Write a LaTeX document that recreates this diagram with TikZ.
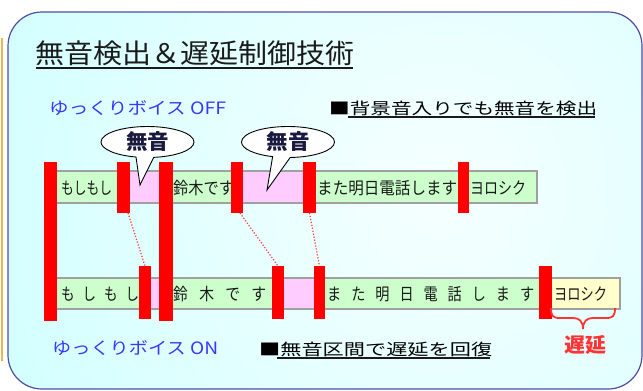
\documentclass[tikz,border=0pt]{standalone}
\usepackage{fontspec}
\setmainfont{Noto Sans CJK JP}
\usepackage{graphicx}
\usetikzlibrary{shapes.callouts}
\definecolor{bgcyan}{HTML}{C8FFFF}
\definecolor{bgwhite}{HTML}{F6FFFF}
\definecolor{frame}{HTML}{4D4DA6}
\definecolor{orangeline}{HTML}{E6B84D}
\definecolor{titlec}{HTML}{1A1A1A}
\definecolor{vblue}{HTML}{3838FF}
\definecolor{barred}{HTML}{FF0000}
\definecolor{bandgreen}{HTML}{CCFFCC}
\definecolor{bandgray}{HTML}{A0A0A0}
\definecolor{silpink}{HTML}{FFCCFF}
\definecolor{delyellow}{HTML}{FFFFCC}
\definecolor{dotred}{HTML}{FF3A3A}
\definecolor{delayred}{HTML}{FF3333}
\definecolor{calltext}{HTML}{1A1A40}
\definecolor{rowtext}{HTML}{1A1A1A}
\newcommand\wfit[2]{\resizebox{#1}{\height}{#2}}
\begin{document}
\begin{tikzpicture}[x=1pt,y=-1pt,
  redbar/.style={fill=barred,draw=none,inner sep=0pt,outer sep=0pt,anchor=north west},
  band/.style={fill=bandgreen,draw=bandgray,line width=1.2pt,inner sep=0pt,outer sep=0pt,anchor=north west},
  seg/.style={draw=none,inner sep=0pt,outer sep=0pt,anchor=north west},
  rowtxt/.style={anchor=west,inner sep=0pt,text=rowtext,font=\fontsize{17}{17}\selectfont},
  bluetxt/.style={anchor=west,inner sep=0pt,text=vblue,font=\fontsize{17}{17}\selectfont},
  subtxt/.style={anchor=west,inner sep=0pt,text=black,font=\fontsize{16}{16}\selectfont},
  uline/.style={line width=1.2pt,draw=titlec},
  dotline/.style={draw=dotred,line width=1.2pt,dash pattern=on 1.2pt off 1.8pt},
  callbox/.style={ellipse callout,draw=black,fill=white,line width=0.9pt,
    minimum width=93pt,minimum height=31pt,inner sep=0pt,callout pointer arc=22,
    text=calltext,font=\fontsize{21}{21}\selectfont\bfseries},
  bracestyle/.style={draw=delayred,line width=1.8pt}
]
\useasboundingbox (0,0) rectangle (643,391);
% background
\begin{scope}
\clip[rounded corners=34pt] (8,12) rectangle (642,389);
\fill[bgcyan] (0,0) rectangle (643,391);
\shade[inner color=bgwhite,outer color=bgcyan] (440,190) circle (620);
\end{scope}
\draw[frame,line width=1.2pt,rounded corners=34pt] (8,12) rectangle (642,389);
\draw[orangeline,line width=1.5pt] (2,38) -- (2,361);

% title and labels
\node[anchor=west,inner sep=0pt,text=titlec,font=\fontsize{27}{27}\selectfont] (title) at (35,53.4) {\wfit{319pt}{無音検出＆遅延制御技術}};
\draw[uline,line width=1.4pt] (36,68) -- (353,68);
\node[bluetxt] (off) at (49,108) {\wfit{177pt}{ゆっくりボイス OFF}};
\node[subtxt] (sub1) at (329,108) {\wfit{268pt}{■背景音入りでも無音を検出}};
\draw[uline] (348,117) -- (595,117);
\node[bluetxt] (on) at (52,348) {\wfit{166pt}{ゆっくりボイス ON}};
\node[subtxt] (sub2) at (259,349) {\wfit{233pt}{■無音区間で遅延を回復}};
\draw[uline] (277,358) -- (490,358);

% bands
\node[band,minimum width=492pt,minimum height=32pt] (ub) at (45,171) {};
\node[seg,fill=silpink,minimum width=33pt,minimum height=30.8pt] (up1) at (128,171.6) {};
\node[seg,fill=silpink,minimum width=64pt,minimum height=30.8pt] (up2) at (241,171.6) {};
\node[band,minimum width=575pt,minimum height=31pt] (lb) at (45,278) {};
\node[seg,fill=silpink,minimum width=12pt,minimum height=29.8pt] (lp1) at (149,278.6) {};
\node[seg,fill=silpink,minimum width=34pt,minimum height=29.8pt] (lp2) at (282,278.6) {};
\node[seg,fill=delyellow,minimum width=67.4pt,minimum height=29.8pt] (ly) at (552,278.6) {};

% row texts
\node[rowtxt] (t1) at (61,188) {\wfit{51pt}{もしもし}};
\node[rowtxt] (t2) at (173,188) {\wfit{61pt}{鈴木です}};
\node[rowtxt] (t3) at (317,188) {\wfit{140pt}{また明日電話します}};
\node[rowtxt] (t4) at (470,188) {\wfit{56pt}{ヨロシク}};
\node[rowtxt] (s1) at (61,294.5) {\wfit{78pt}{も\hspace{10pt}し\hspace{10pt}も\hspace{10pt}し}};
\node[rowtxt] (s2) at (173,294.5) {\wfit{93pt}{鈴\hspace{13pt}木\hspace{13pt}で\hspace{13pt}す}};
\node[rowtxt] (s3) at (327,294.5) {\wfit{207pt}{ま\hspace{12pt}た\hspace{12pt}明\hspace{12pt}日\hspace{12pt}電\hspace{12pt}話\hspace{12pt}し\hspace{12pt}ま\hspace{12pt}す}};
\node[rowtxt] (s4) at (554,294.5) {\wfit{53pt}{ヨロシク}};

% red bars
\node[redbar,minimum width=13pt,minimum height=159pt] (b1) at (44,162) {};
\node[redbar,minimum width=13pt,minimum height=51pt] (u2) at (117,162) {};
\node[redbar,minimum width=14pt,minimum height=159pt] (b3) at (159,162) {};
\node[redbar,minimum width=12pt,minimum height=51pt] (u4) at (231,162) {};
\node[redbar,minimum width=13pt,minimum height=51pt] (u5) at (303,162) {};
\node[redbar,minimum width=11pt,minimum height=51pt] (u6) at (458,162) {};
\node[redbar,minimum width=12pt,minimum height=53pt] (l2) at (139,266) {};
\node[redbar,minimum width=12pt,minimum height=53pt] (l4) at (272,266) {};
\node[redbar,minimum width=11pt,minimum height=53pt] (l5) at (314,266) {};
\node[redbar,minimum width=13pt,minimum height=53pt] (l6) at (539,266) {};

% dotted connectors
\draw[dotline] ([xshift=-2pt]u2.south east) -- (l2.north);
\draw[dotline] ([xshift=-3pt]u4.south east) -- (l4.north);
\draw[dotline] (u5.south) -- (l5.north);

% callouts
\coordinate (tip1) at (140,185);
\coordinate (tip2) at (267,190);
\node[callbox,callout absolute pointer={(tip1)}] (c1) at (147.5,142) {\wfit{43pt}{無音}};
\node[callbox,callout absolute pointer={(tip2)}] (c2) at (288,142) {\wfit{43pt}{無音}};

% delay brace and label
\draw[bracestyle] (551,308) .. controls (551,316) and (553,318) .. (560,318) -- (573,318)
  .. controls (579,318) and (583,321) .. (583,329)
  .. controls (583,321) and (587,318) .. (593,318) -- (606,318)
  .. controls (613,318) and (615,316) .. (615,308);
\node[inner sep=0pt,text=delayred,font=\fontsize{20}{20}\selectfont\bfseries] (delay) at (585,345) {\wfit{42pt}{遅延}};
\end{tikzpicture}
\end{document}
